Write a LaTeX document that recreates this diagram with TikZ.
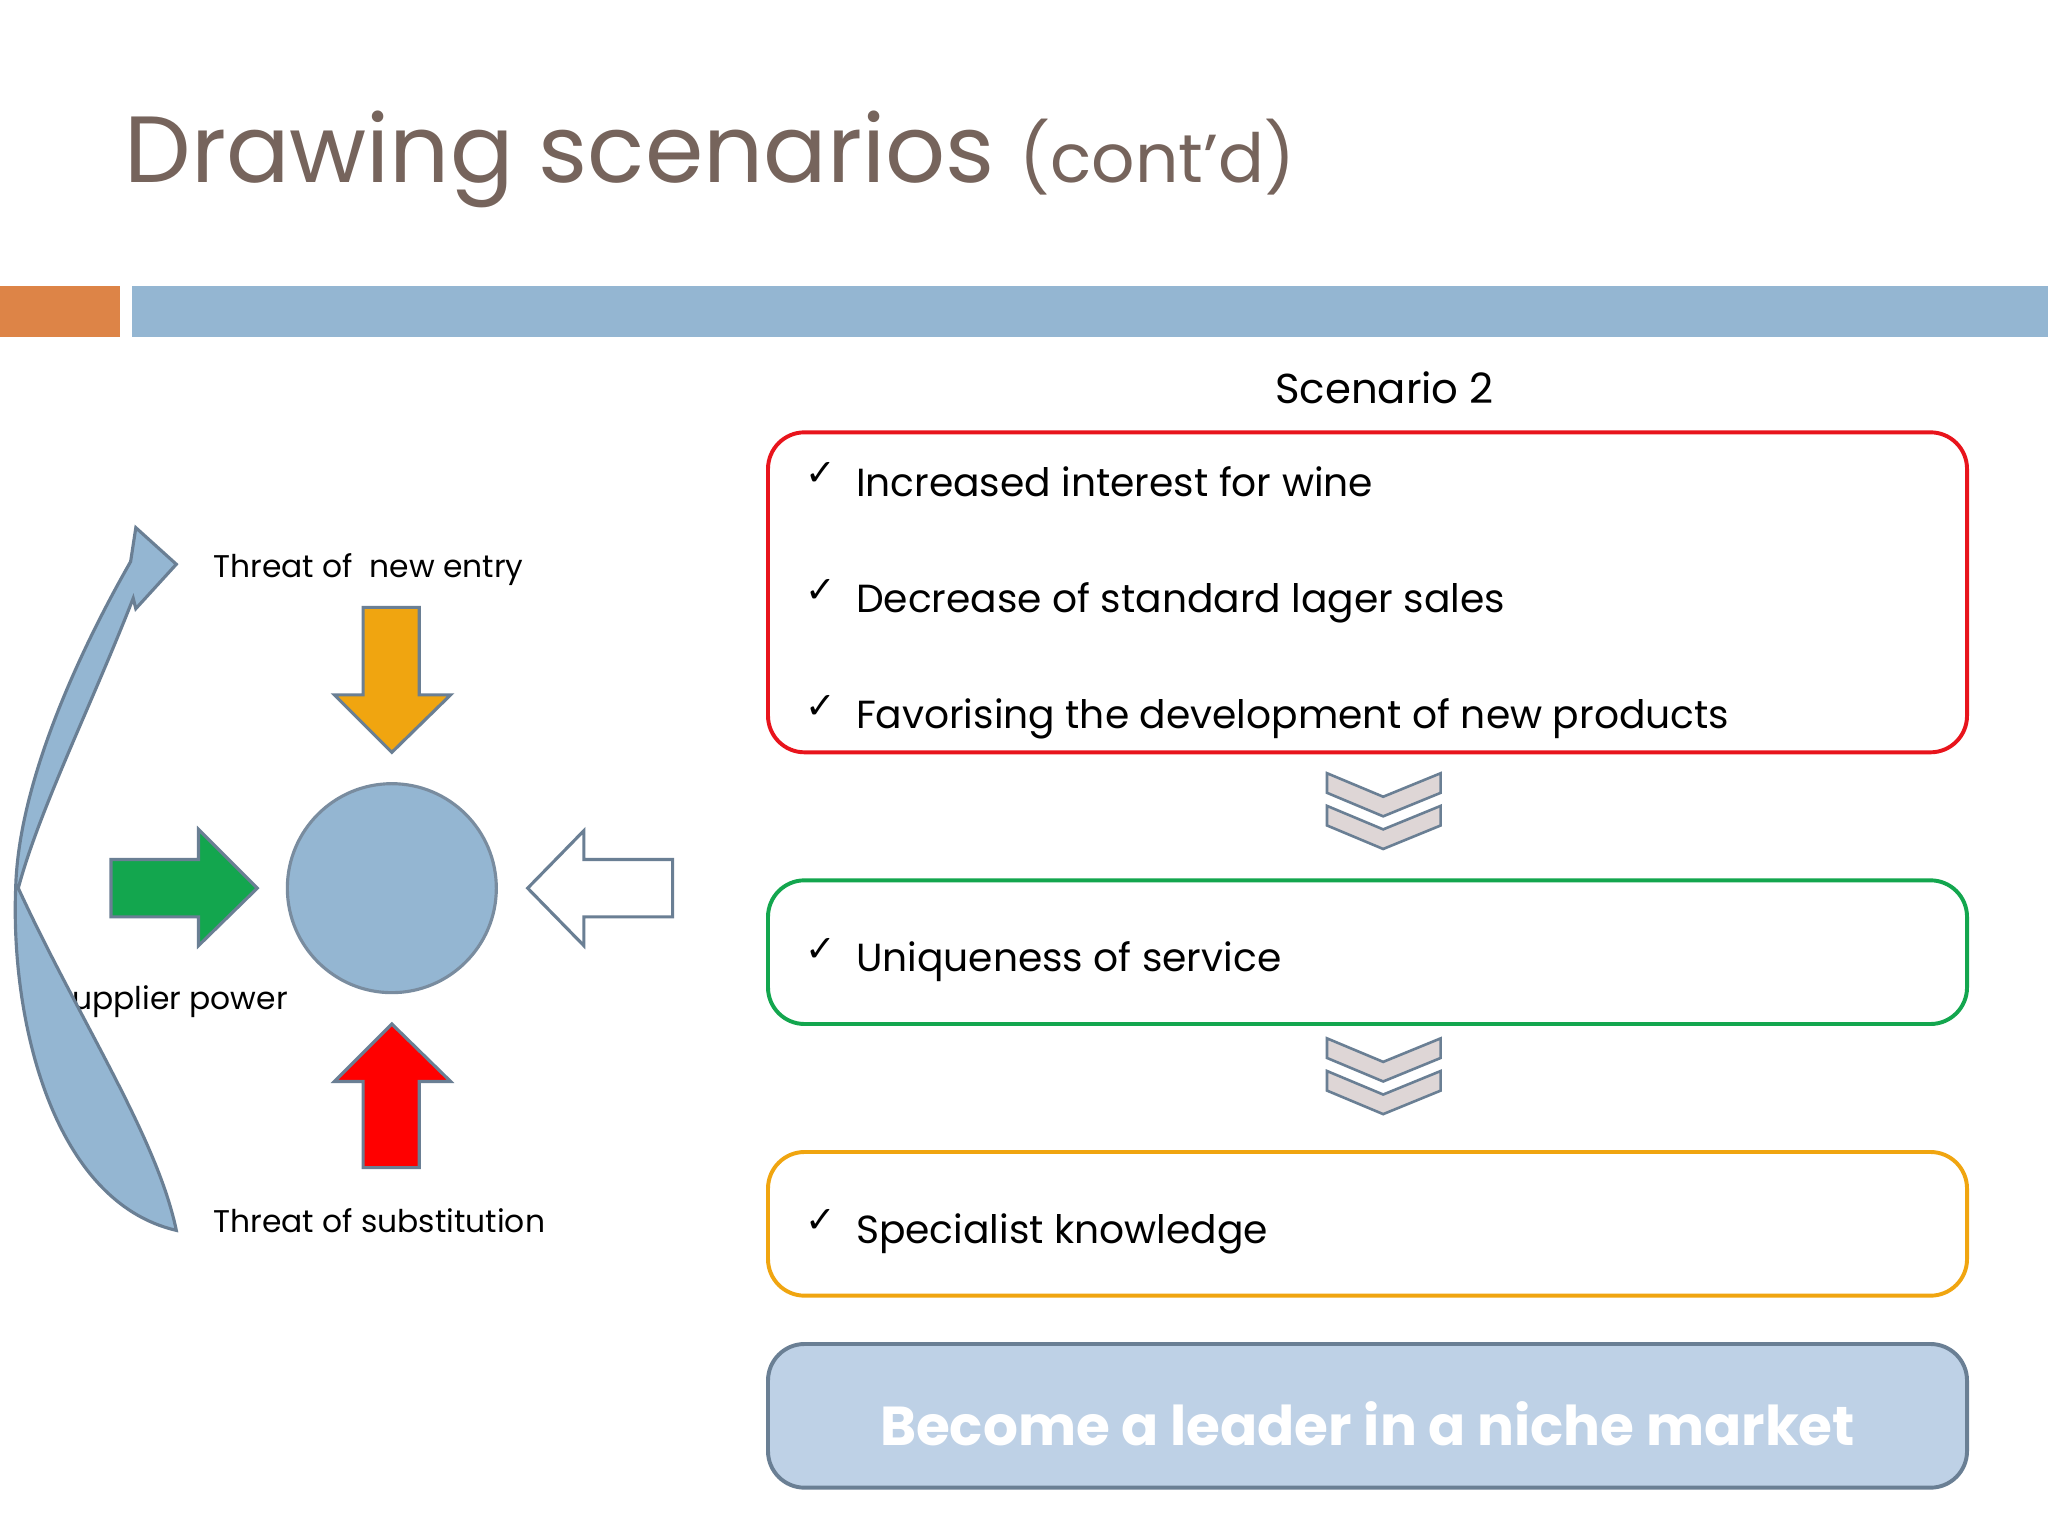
\documentclass[tikz,border=0pt]{standalone}
\usepackage{fontspec}
\setmainfont{Poppins}
\newfontfamily\dvs{DejaVu Sans}
\begin{document}
\begin{tikzpicture}[x=0.5pt,y=-0.5pt,
  box/.style={rounded corners=14pt,line width=1.5pt},
  txt/.style={anchor=base west,font=\fontsize{15}{18}\selectfont,inner sep=0},
  chk/.style={anchor=base west,font=\dvs\fontsize{14}{16}\selectfont,inner sep=0},
  lab/.style={anchor=base west,font=\fontsize{12}{14}\selectfont,inner sep=0},
  arr/.style={draw=arrline,line width=1.2pt,line join=miter},
  chev/.style={fill=chevfill,draw=arrline,line width=1pt}]
\definecolor{titlec}{HTML}{76645C}
\definecolor{orbar}{HTML}{DD8447}
\definecolor{blbar}{HTML}{94B6D2}
\definecolor{arrline}{HTML}{6A7F94}
\definecolor{chevfill}{HTML}{DED6D6}
\definecolor{boxred}{HTML}{E8141C}
\definecolor{boxgreen}{HTML}{13A64E}
\definecolor{boxorange}{HTML}{F0A510}
\definecolor{leadfill}{HTML}{BED1E6}
\useasboundingbox (0,0) rectangle (1568,1176);
\fill[white] (0,0) rectangle (1568,1176);
% title
\node[anchor=base west,inner sep=0,text=titlec] (title) at (95,140)
  {\fontsize{36}{40}\selectfont Drawing scenarios \fontsize{26}{30}\selectfont(cont’d)};
\fill[orbar] (0,219) rectangle (92,258);
\fill[blbar] (101,219) rectangle (1568,258);
\node[anchor=base,inner sep=0,font=\fontsize{16}{18}\selectfont] (sc) at (1060,309) {Scenario 2};
% boxes
\draw[box,draw=boxred] (588,331) rectangle (1506,576);
\draw[box,draw=boxgreen] (588,674) rectangle (1506,784);
\draw[box,draw=boxorange] (588,882) rectangle (1506,992);
\draw[box,draw=arrline,fill=leadfill] (588,1029) rectangle (1506,1139);
\node[font=\bfseries\fontsize{21}{24}\selectfont,text=white] (lead) at (1047,1090) {Become a leader in a niche market};
\foreach \y/\t [count=\i] in {380/Increased interest for wine,469/Decrease of standard lager sales,558/Favorising the development of new products,744/Uniqueness of service,952/Specialist knowledge}{
  \node[chk] (c\i) at (616,\y-8) {✓};
  \node[txt] (t\i) at (655,\y) {\t};
}
% chevrons
\foreach \y in {592,795}{
  \draw[chev] (1016,\y) -- (1059,\y+18) -- (1103,\y) -- (1103,\y+15) -- (1059,\y+33) -- (1016,\y+15) -- cycle;
  \draw[chev] (1016,\y+25) -- (1059,\y+43) -- (1103,\y+25) -- (1103,\y+40) -- (1059,\y+58) -- (1016,\y+40) -- cycle;
}
% left diagram
\node[circle,minimum size=80pt,fill=blbar,draw=arrline!90,line width=1.2pt] (core) at (300,680) {};
\draw[arr,fill=boxorange] (278,465) -- (321,465) -- (321,532) -- (345,532) -- (300,576) -- (256,532) -- (278,532) -- cycle;
\draw[arr,fill=boxgreen] (85,658) -- (152,658) -- (152,635) -- (197,680) -- (152,724) -- (152,702) -- (85,702) -- cycle;
\draw[arr,fill=white] (515,658) -- (447,658) -- (447,636) -- (404,680) -- (447,724) -- (447,702) -- (515,702) -- cycle;
\draw[arr,fill=red] (278,894) -- (321,894) -- (321,828) -- (345,828) -- (300,784) -- (256,828) -- (278,828) -- cycle;
\node[lab] (l1) at (163,442) {Threat of \ new entry};
\node[lab] (l2) at (55,773) {upplier power};
\node[lab] (l3) at (163,944) {Threat of substitution};
% curved arrow
\draw[arr,fill=blbar] (135,942) .. controls (40,920) and (8,780) .. (12,680)
  .. controls (14,600) and (60,500) .. (100,430) -- (104,404) -- (135,432) -- (104,466) -- (102,458)
  .. controls (70,540) and (30,620) .. (14,680)
  .. controls (60,780) and (120,870) .. (135,942) -- cycle;
\end{tikzpicture}
\end{document}
